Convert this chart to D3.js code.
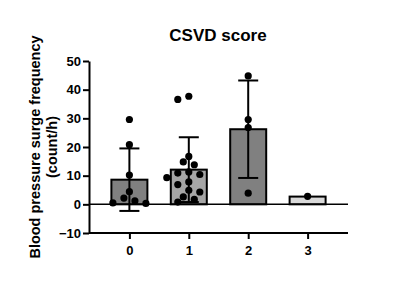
<!DOCTYPE html>
<meta charset="utf-8">
<style>
body { margin: 0; padding: 0; background: #fff; }
text { font-family: "Liberation Sans", Arial, sans-serif; font-weight: bold; fill: #000; }
</style>
<script src="https://d3js.org/d3.v7.min.js"></script>
<div id="chart"></div>
<script>
// data
const categories = ["0", "1", "2", "3"];
const means = [8.6, 12.1, 26.2, 2.7];
const sds = [10.9, 11.3, 17.0, 0];
const points0 = [29.6, 20.8, 10.2, 4.4, 2.2, 1.2, 0.5, 0.3];
const points1 = [37.7, 36.6, 16.7, 14.8, 13.8, 11.3, 10.9, 10.4, 9.3, 7.8, 6.9, 4.9, 4.3, 2.6, 1.7, 0.8];
const points2 = [44.8, 29.6, 26.8, 3.9];
const points3 = [2.8];
const yTicks = [-10, 0, 10, 20, 30, 40, 50];
const barColors = ["#808080", "#a6a6a6", "#808080", "#d9d9d9"];

const allPoints = [points0, points1, points2, points3];

const W = 400, H = 281;
const svg = d3.select("#chart").append("svg")
  .attr("width", W).attr("height", H);

const x = d3.scalePoint()
  .domain(categories)
  .range([89, 348])
  .padding(0.68);

const y = d3.scaleLinear()
  .domain([-10, 50])
  .range([233, 61]);

const barW = 36;

// bars
svg.append("g").selectAll("rect")
  .data(categories)
  .join("rect")
    .attr("x", d => x(d) - barW / 2)
    .attr("width", barW)
    .attr("y", (d, i) => y(means[i]))
    .attr("height", (d, i) => y(0) - y(means[i]))
    .attr("fill", (d, i) => barColors[i])
    .attr("stroke", "#000")
    .attr("stroke-width", 2);

// zero line
svg.append("line")
  .attr("x1", 89).attr("x2", 348)
  .attr("y1", y(0)).attr("y2", y(0))
  .attr("stroke", "#000").attr("stroke-width", 1.5);

// error bars (mean +/- SD)
const capW = 20;
const eb = svg.append("g").attr("stroke", "#000").attr("stroke-width", 2);
categories.forEach((c, i) => {
  if (sds[i] <= 0) return;
  const cx = x(c), top = y(means[i] + sds[i]), bot = y(means[i] - sds[i]);
  eb.append("line").attr("x1", cx).attr("x2", cx).attr("y1", top).attr("y2", bot);
  eb.append("line").attr("x1", cx - capW / 2).attr("x2", cx + capW / 2).attr("y1", top).attr("y2", top);
  eb.append("line").attr("x1", cx - capW / 2).attr("x2", cx + capW / 2).attr("y1", bot).attr("y2", bot);
});

// scatter points, simple greedy swarm so dots don't overlap
const r = 3.6, step = 5.5, minD = 7.5;
const offsets = [0, -1, 1, -2, 2, -3, 3, -4, 4].map(k => k * step);
const dots = [];
allPoints.forEach((pts, gi) => {
  const placed = [];
  pts.forEach(v => {
    const py = y(v);
    let ox = 0;
    for (const o of offsets) {
      if (placed.every(p => Math.hypot(p.o - o, p.py - py) >= minD)) { ox = o; break; }
    }
    placed.push({o: ox, py: py});
    dots.push({cx: x(categories[gi]) + ox, cy: py});
  });
});
svg.append("g").selectAll("circle")
  .data(dots)
  .join("circle")
    .attr("cx", d => d.cx)
    .attr("cy", d => d.cy)
    .attr("r", r)
    .attr("fill", "#000");

// y axis
const yAxis = svg.append("g")
  .attr("transform", "translate(89,0)")
  .call(d3.axisLeft(y).tickValues(yTicks).tickSize(6).tickPadding(2).tickSizeOuter(0));
yAxis.selectAll("path, line").attr("stroke", "#000").attr("stroke-width", 2);
yAxis.selectAll("text").style("font-size", "13px").style("font-family", "Liberation Sans, Arial, sans-serif").style("font-weight", "bold");

// x axis at -10
const xAxis = svg.append("g")
  .attr("transform", `translate(0,${y(-10)})`)
  .call(d3.axisBottom(x).tickSize(6).tickPadding(7).tickSizeOuter(0));
xAxis.select("path").attr("d", `M89,0H348`);
xAxis.selectAll("path, line").attr("stroke", "#000").attr("stroke-width", 2);
xAxis.selectAll("text").style("font-size", "13px").style("font-family", "Liberation Sans, Arial, sans-serif").style("font-weight", "bold");

// title
svg.append("text")
  .attr("x", 218).attr("y", 41)
  .attr("text-anchor", "middle")
  .style("font-size", "17px")
  .text("CSVD score");

// y label
const yl = svg.append("text")
  .attr("transform", `translate(40,${y(20)}) rotate(-90)`)
  .attr("text-anchor", "middle")
  .style("font-size", "14.5px");
yl.append("tspan").attr("x", 0).attr("dy", 0).text("Blood pressure surge frequency");
yl.append("tspan").attr("x", 0).attr("dy", 17).text("(count/h)");
</script>
